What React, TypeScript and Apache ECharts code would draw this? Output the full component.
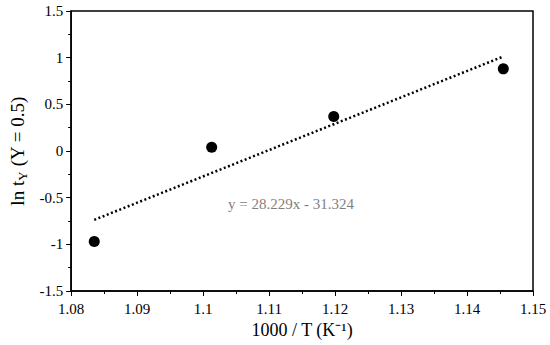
import React, { useEffect, useRef } from "react";
import * as echarts from "echarts";

const xValues = [1.0835, 1.1013, 1.1198, 1.1455];
const yValues = [-0.97, 0.04, 0.37, 0.88];
const slope = 28.229;
const intercept = -31.324;
const trendLabel = "y = 28.229x - 31.324";

export default function App() {
  const ref = useRef<HTMLDivElement>(null);
  useEffect(() => {
    if (!ref.current) return;
    document.body.style.margin = "0";
    const chart = echarts.init(ref.current, null, { renderer: "svg" });
    const font = "'Liberation Serif', 'Times New Roman', serif";
    const xs = [xValues[0], xValues[xValues.length - 1]];
    const trend = xs.map((x) => [x, slope * x + intercept]);
    chart.setOption({
      animation: false,
      backgroundColor: "#ffffff",
      grid: {
        left: 70,
        right: 17,
        top: 11,
        bottom: 54,
        show: true,
        borderColor: "#000",
        borderWidth: 1.5,
        backgroundColor: "transparent",
      },
      xAxis: {
        type: "value",
        min: 1.08,
        max: 1.15,
        interval: 0.01,
        name: "1000 / T (K⁻¹)",
        nameLocation: "middle",
        nameGap: 30,
        nameTextStyle: { fontFamily: font, fontSize: 18, color: "#000" },
        axisLine: { show: true, onZero: false, lineStyle: { color: "#000", width: 1.5 } },
        axisTick: { show: true, inside: false, length: 5, lineStyle: { color: "#000", width: 1 } },
        minorTick: { show: true, splitNumber: 2, length: 3, lineStyle: { color: "#000", width: 1 } },
        splitLine: { show: false },
        axisLabel: {
          fontFamily: font,
          fontSize: 15,
          color: "#000",
          margin: 10,
          formatter: (v: number) => String(parseFloat(v.toFixed(3))),
        },
      },
      yAxis: {
        type: "value",
        min: -1.5,
        max: 1.5,
        interval: 0.5,
        name: "{a|ln t}{s|Y}{a| (Y = 0.5)}",
        nameLocation: "middle",
        nameGap: 34,
        nameRotate: 90,
        nameTextStyle: {
          fontFamily: font,
          fontSize: 19,
          color: "#000",
          rich: {
            a: { fontFamily: font, fontSize: 19, color: "#000" },
            s: { fontFamily: font, fontSize: 13, color: "#000", verticalAlign: "bottom", padding: [9, 0, 0, 0] },
          },
        },
        axisLine: { show: true, onZero: false, lineStyle: { color: "#000", width: 1.5 } },
        axisTick: { show: true, inside: false, length: 5, lineStyle: { color: "#000", width: 1 } },
        minorTick: { show: true, splitNumber: 2, length: 3, lineStyle: { color: "#000", width: 1 } },
        splitLine: { show: false },
        axisLabel: {
          fontFamily: font,
          fontSize: 15,
          color: "#000",
          margin: 8,
          formatter: (v: number) => String(parseFloat(v.toFixed(2))),
        },
      },
      series: [
        {
          type: "line",
          data: trend,
          symbol: "none",
          lineStyle: { color: "#000", width: 2.5, type: [2, 2.5] },
          z: 2,
        },
        {
          type: "scatter",
          data: xValues.map((x, i) => [x, yValues[i]]),
          symbol: "circle",
          symbolSize: 11,
          itemStyle: { color: "#000", opacity: 1 },
          z: 3,
        },
      ],
      graphic: [
        {
          type: "text",
          left: 228,
          top: 196,
          style: {
            text: trendLabel,
            fontFamily: font,
            fontSize: 15,
            fill: "#7f7f7f",
          },
        },
      ],
    });
    return () => chart.dispose();
  }, []);
  return <div ref={ref} style={{ width: 550, height: 345 }} />;
}
